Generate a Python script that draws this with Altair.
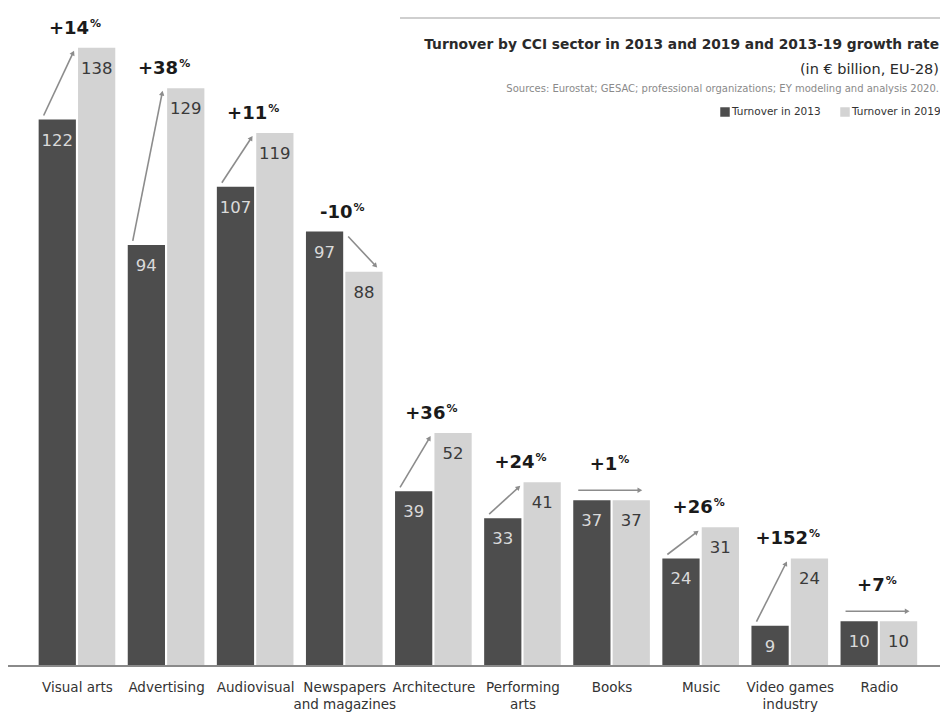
import math
import json
import altair as alt
import pandas as pd

# ---------------- data ----------------
categories = ["Visual arts", "Advertising", "Audiovisual", "Newspapers\nand magazines",
              "Architecture", "Performing\narts", "Books", "Music",
              "Video games\nindustry", "Radio"]
turnover_2013 = [122, 94, 107, 97, 39, 33, 37, 24, 9, 10]
turnover_2019 = [138, 129, 119, 88, 52, 41, 37, 31, 24, 10]
growth_labels = ["+14", "+38", "+11", "-10", "+36", "+24", "+1", "+26", "+152", "+7"]
series_names = ["Turnover in 2013", "Turnover in 2019"]
title_text = "Turnover by CCI sector in 2013 and 2019 and 2013-19 growth rate"
subtitle_text = "(in \u20ac billion, EU-28)"
source_text = "Sources: Eurostat; GESAC; professional organizations; EY modeling and analysis 2020."

# ---------------- style / layout ----------------
FONT = "DejaVu Sans"
DARK, LIGHT = "#4d4d4d", "#d3d3d3"
ARROW = "#8c8c8c"

W, H = 932, 658
RIGHT = W - 1                    # right edge used by header texts
PX_X = 89.1                      # pixels per category step
X_MIN = -0.774
X_MAX = X_MIN + W / PX_X
Y_MAX = 146.9
PX_Y = H / Y_MAX                 # pixels per € billion
INNER, OUTER = 0.012, 0.43

xscale = alt.Scale(domain=[X_MIN, X_MAX], nice=False, zero=False)
yscale = alt.Scale(domain=[0, Y_MAX], nice=False, zero=False)

label_expr = json.dumps([c.split("\n") for c in categories]) + "[datum.value]"
xaxis = alt.Axis(values=list(range(len(categories))), labelExpr=label_expr, title=None,
                 grid=False, ticks=False, tickSize=0, domain=False, labelPadding=14,
                 labelFont=FONT, labelFontSize=13.5, labelColor="#333333",
                 labelLineHeight=17, labelAngle=0, labelOverlap=False, labelFlush=False)

# bars
bar_rows = []
for i, (a, b) in enumerate(zip(turnover_2013, turnover_2019)):
    bar_rows.append(dict(series=series_names[0], value=a, base=0, x0=i - OUTER, x1=i - INNER,
                         xc=i - (OUTER + INNER) / 2))
    bar_rows.append(dict(series=series_names[1], value=b, base=0, x0=i + INNER, x1=i + OUTER,
                         xc=i + (OUTER + INNER) / 2))
bars_df = pd.DataFrame(bar_rows)

CHAR_W = {"+": 0.838, "-": 0.415}


def text_w(s, size):
    return size * sum(CHAR_W.get(ch, 0.696) for ch in s)


NUM_SIZE, PCT_SIZE = 18, 11
growth_rows, arrow_rows = [], []
for i, (a, b, g) in enumerate(zip(turnover_2013, turnover_2019, growth_labels)):
    flat = a == b
    top = max(a, b)
    w_num = text_w(g, NUM_SIZE)
    w_pct = PCT_SIZE * 1.0
    total = w_num + 1 + w_pct
    left_px = -total / 2 - 2
    gy = top + (35 if flat else 19) / PX_Y
    growth_rows.append(dict(num=g, pct="%", xn=i + (left_px + w_num) / PX_X,
                            xp=i + (left_px + w_num + 1) / PX_X, y=gy,
                            yp=gy + 5 / PX_Y))
    dark_l, dark_r = i - OUTER, i - INNER
    light_l, light_r = i + INNER, i + OUTER
    if flat:
        xs, ys = dark_l + 5 / PX_X, a + 10 / PX_Y
        xe, ye = light_r - 10 / PX_X, b + 10 / PX_Y
    elif b > a:
        xs, ys = dark_l + 5 / PX_X, a + 4 / PX_Y
        xe, ye = light_l - 5 / PX_X, b - 5 / PX_Y
    else:
        xs, ys = dark_r + 5 / PX_X, a - 5 / PX_Y
        xe, ye = light_r - 7 / PX_X, b + 6 / PX_Y
    dx = (xe - xs) * PX_X
    dy_up = (ye - ys) * PX_Y
    ang = math.degrees(math.atan2(dx, dy_up)) % 360
    arrow_rows.append(dict(xs=xs, ys=ys, xe=xe, ye=ye, angle=ang))
growth_df = pd.DataFrame(growth_rows)
arrow_df = pd.DataFrame(arrow_rows)

# ---------------- layers ----------------
bars = alt.Chart(bars_df).mark_bar().encode(
    x=alt.X("x0:Q", scale=xscale, axis=xaxis),
    x2="x1:Q",
    y=alt.Y("value:Q", scale=yscale, axis=None, stack=None),
    y2="base:Q",
    color=alt.Color("series:N", scale=alt.Scale(domain=series_names, range=[DARK, LIGHT]),
                    legend=None),
)

values = alt.Chart(bars_df).mark_text(baseline="middle", dy=21, font=FONT, fontSize=16.5).encode(
    x=alt.X("xc:Q", scale=xscale, axis=xaxis),
    y=alt.Y("value:Q", scale=yscale, axis=None),
    text=alt.Text("value:Q"),
    color=alt.condition(alt.datum.series == series_names[0], alt.value("#dadada"),
                        alt.value("#3a3a3a")),
)

baseline = alt.Chart(pd.DataFrame({"zero": [0]})).mark_rule(color="#8a8a8a", strokeWidth=2).encode(
    y=alt.Y("zero:Q", scale=yscale, axis=None),
    x=alt.value(0), x2=alt.value(W),
)

arrows = alt.Chart(arrow_df).mark_rule(color=ARROW, strokeWidth=1.6).encode(
    x=alt.X("xs:Q", scale=xscale, axis=xaxis),
    y=alt.Y("ys:Q", scale=yscale, axis=None),
    x2="xe:Q", y2="ye:Q",
)

heads = alt.Chart(arrow_df).mark_point(shape="triangle-up", filled=True, size=30,
                                       color=ARROW, opacity=1).encode(
    x=alt.X("xe:Q", scale=xscale, axis=xaxis),
    y=alt.Y("ye:Q", scale=yscale, axis=None),
    angle=alt.Angle("angle:Q", scale=None),
)

growth_num = alt.Chart(growth_df).mark_text(align="right", baseline="middle", font=FONT,
                                            fontSize=NUM_SIZE, fontWeight="bold",
                                            color="#1a1a1a").encode(
    x=alt.X("xn:Q", scale=xscale, axis=xaxis),
    y=alt.Y("y:Q", scale=yscale, axis=None),
    text="num:N",
)

growth_pct = alt.Chart(growth_df).mark_text(align="left", baseline="middle", font=FONT,
                                            fontSize=PCT_SIZE, fontWeight="bold",
                                            color="#1a1a1a").encode(
    x=alt.X("xp:Q", scale=xscale, axis=xaxis),
    y=alt.Y("yp:Q", scale=yscale, axis=None),
    text="pct:N",
)

# header decorations
top_line = alt.Chart(pd.DataFrame({"k": [0]})).mark_rule(color="#cfcfcf", strokeWidth=2).encode(
    x=alt.value(392), x2=alt.value(W), y=alt.value(10),
)


def header_text(txt, y, size, weight="normal", color="#333333"):
    return alt.Chart(pd.DataFrame({"t": [txt]})).mark_text(
        align="right", baseline="middle", font=FONT, fontSize=size, fontWeight=weight,
        color=color).encode(x=alt.value(RIGHT), y=alt.value(y), text="t:N")


title = header_text(title_text, 37, 13.8, "bold", "#2a2a2a")
subtitle = header_text(subtitle_text, 62, 14.5, "normal", "#2a2a2a")
source = header_text(source_text, 81, 10, "normal", "#8a8a8a")

LEG_SIZE = 10.5
LEG_Y = 104
leg_text = alt.Chart(pd.DataFrame({"t": series_names, "xl": [724, RIGHT - 87]})).mark_text(
    align="left", baseline="middle", font=FONT, fontSize=LEG_SIZE, color="#333333").encode(
    x=alt.X("xl:Q", scale=None), y=alt.value(LEG_Y), text="t:N")
leg_sq = alt.Chart(pd.DataFrame({"s": series_names, "xq": [717, RIGHT - 94]})).mark_square(
    size=90, opacity=1).encode(
    x=alt.X("xq:Q", scale=None), y=alt.value(LEG_Y),
    color=alt.Color("s:N", scale=alt.Scale(domain=series_names, range=[DARK, LIGHT]), legend=None))

chart = alt.layer(
    bars, values, baseline, arrows, heads, growth_num, growth_pct,
    top_line, title, subtitle, source, leg_sq, leg_text,
).properties(
    width=W, height=H,
    autosize=alt.AutoSizeParams(type="none"),
    padding={"left": 0, "top": 0, "right": 0, "bottom": 46},
).configure_view(stroke=None)

chart.save("out.html", embed_options={"renderer": "svg", "actions": False})
